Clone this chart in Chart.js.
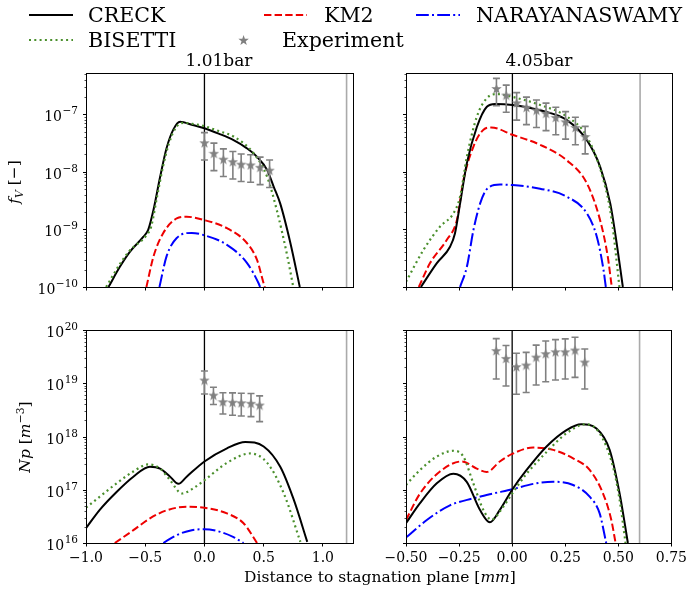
<!DOCTYPE html>
<html><head><meta charset="utf-8">
<script src="https://cdn.jsdelivr.net/npm/chart.js@4.4.1/dist/chart.umd.min.js"></script>
<style>
html,body{margin:0;padding:0;background:#fff;}
body{width:690px;height:590px;position:relative;overflow:hidden;font-family:"DejaVu Serif",serif;color:#000;}
canvas{position:absolute;left:0;top:0;}
.t{position:absolute;white-space:nowrap;line-height:1;}
.lg{font-size:20.6px;}
.ti{font-size:17px;}
.ax{font-size:15.5px;}
sub,sup{font-size:70%;line-height:0;}
</style></head><body>
<canvas id="cTL" width="690" height="590"></canvas>
<canvas id="cTR" width="690" height="590"></canvas>
<canvas id="cBL" width="690" height="590"></canvas>
<canvas id="cBR" width="690" height="590"></canvas>

<svg style="position:absolute;left:0;top:0" width="690" height="60">
  <line x1="29" y1="15" x2="73" y2="15" stroke="#000" stroke-width="2"/>
  <line x1="264" y1="15" x2="307" y2="15" stroke="#ee0000" stroke-width="2" stroke-dasharray="7.4,3.2"/>
  <line x1="416" y1="15" x2="460" y2="15" stroke="#0000ff" stroke-width="2" stroke-dasharray="12.8,3.2,2,3.2"/>
  <line x1="29" y1="40" x2="73" y2="40" stroke="#4a8f2c" stroke-width="2" stroke-dasharray="2,3.3"/>
  <polygon id="lgStar" fill="#808080"/>
</svg>
<div class="t lg" style="left:88px;top:5px">CRECK</div>
<div class="t lg" style="left:324px;top:5px">KM2</div>
<div class="t lg" style="left:476px;top:5px">NARAYANASWAMY</div>
<div class="t lg" style="left:88px;top:30px">BISETTI</div>
<div class="t lg" style="left:282px;top:30px">Experiment</div>
<div class="t ti" style="left:219px;top:52px;transform:translateX(-50%)">1.01bar</div>
<div class="t ti" style="left:539px;top:52px;transform:translateX(-50%)">4.05bar</div>
<div class="t ax" style="left:15px;top:182px;transform:translate(-50%,-50%) rotate(-90deg)"><i>f</i><sub><i>V</i></sub> [−]</div>
<div class="t ax" style="left:26px;top:437px;transform:translate(-50%,-50%) rotate(-90deg)"><i>Np</i> [<i>m</i><sup>−3</sup>]</div>
<div class="t ax" style="left:380px;top:570px;transform:translateX(-50%)">Distance to stagnation plane [<i>mm</i>]</div>

<script>
// ---------------- DATA ----------------
// x ticks
const xTicks101 = [-1.0, -0.5, 0.0, 0.5, 1.0];
const xTicks405 = [-0.5, -0.25, 0.0, 0.25, 0.5, 0.75];
// soot volume fraction, 1.01 bar
const fv101_CRECK_x = [-0.81, -0.714, -0.63, -0.517, -0.475, -0.43, -0.374, -0.32, -0.263, -0.206, -0.1, 0, 0.12, 0.246, 0.35, 0.444, 0.53, 0.585, 0.64, 0.726, 0.805];
const fv101_CRECK_y = [1.0e-10, 2.24e-10, 4.07e-10, 7.4e-10, 9.8e-10, 2.19e-9, 8.2e-9, 2.57e-8, 5.4e-8, 7.4e-8, 6.5e-8, 5.7e-8, 4.6e-8, 3.55e-8, 2.63e-8, 1.82e-8, 1.07e-8, 5.5e-9, 2.8e-9, 5.75e-10, 1.0e-10];
const fv101_BISETTI_x = [-0.83, -0.714, -0.63, -0.49, -0.45, -0.40, -0.35, -0.30, -0.24, -0.18, -0.1, 0, 0.12, 0.246, 0.415, 0.53, 0.61, 0.70, 0.75];
const fv101_BISETTI_y = [1.0e-10, 2.5e-10, 4.3e-10, 7.9e-10, 1.12e-9, 3.7e-9, 1.23e-8, 3.1e-8, 5.9e-8, 7.1e-8, 6.8e-8, 6.2e-8, 5.1e-8, 4.1e-8, 2.1e-8, 8.1e-9, 2.2e-9, 3.4e-10, 1.0e-10];
const fv101_KM2_x = [-0.49, -0.43, -0.35, -0.234, -0.15, 0, 0.19, 0.36, 0.444, 0.5, 0.51];
const fv101_KM2_y = [1.0e-10, 3.4e-10, 8.5e-10, 1.55e-9, 1.66e-9, 1.45e-9, 1.05e-9, 5.75e-10, 2.95e-10, 1.15e-10, 1.0e-10];
const fv101_NARAY_x = [-0.38, -0.32, -0.234, -0.107, 0, 0.19, 0.36, 0.458, 0.47];
const fv101_NARAY_y = [1.0e-10, 3.4e-10, 7.1e-10, 8.7e-10, 7.9e-10, 5.4e-10, 2.6e-10, 1.15e-10, 1.0e-10];
const fv101_EXP_x = [0, 0.08, 0.16, 0.24, 0.31, 0.39, 0.47, 0.55];
const fv101_EXP_y = [3.2e-8, 2.1e-8, 1.66e-8, 1.5e-8, 1.36e-8, 1.32e-8, 1.2e-8, 1.07e-8];
const fv101_EXP_lo = [1.6e-8, 1.05e-8, 8.3e-9, 7.5e-9, 6.8e-9, 6.6e-9, 6.0e-9, 5.35e-9];
const fv101_EXP_hi = [4.8e-8, 3.15e-8, 2.5e-8, 2.25e-8, 2.04e-8, 1.98e-8, 1.8e-8, 1.6e-8];
// soot volume fraction, 4.05 bar
const fv405_CRECK_x = [-0.43, -0.355, -0.293, -0.27, -0.246, -0.214, -0.167, -0.12, -0.081, 0, 0.13, 0.256, 0.35, 0.412, 0.46, 0.49, 0.519];
const fv405_CRECK_y = [1.0e-10, 2.6e-10, 5.0e-10, 8.5e-10, 2.8e-9, 1.41e-8, 6.0e-8, 1.35e-7, 1.51e-7, 1.45e-7, 1.17e-7, 7.9e-8, 3.55e-8, 1.23e-8, 2.8e-9, 5.75e-10, 1.0e-10];
const fv405_BISETTI_x = [-0.5, -0.418, -0.34, -0.277, -0.246, -0.214, -0.167, -0.12, -0.073, 0, 0.13, 0.256, 0.35, 0.428, 0.467, 0.503];
const fv405_BISETTI_y = [1.23e-10, 4.4e-10, 1.12e-9, 1.9e-9, 3.7e-9, 1.82e-8, 9.1e-8, 1.9e-7, 2.24e-7, 2.0e-7, 1.45e-7, 9.1e-8, 4.1e-8, 7.2e-9, 1.45e-9, 1.0e-10];
const fv405_KM2_x = [-0.44, -0.387, -0.308, -0.261, -0.23, -0.183, -0.136, -0.10, 0, 0.13, 0.256, 0.35, 0.412, 0.448, 0.467];
const fv405_KM2_y = [1.0e-10, 2.6e-10, 6.6e-10, 1.45e-9, 7.2e-9, 2.75e-8, 5.4e-8, 5.9e-8, 4.4e-8, 2.95e-8, 1.58e-8, 6.3e-9, 1.45e-9, 3.4e-10, 1.0e-10];
const fv405_NARAY_x = [-0.246, -0.214, -0.183, -0.152, -0.12, -0.058, 0, 0.13, 0.256, 0.35, 0.397, 0.428, 0.439];
const fv405_NARAY_y = [1.0e-10, 2.24e-10, 9.8e-10, 2.8e-9, 5.0e-9, 6.0e-9, 5.9e-9, 5.1e-9, 3.7e-9, 1.9e-9, 7.4e-10, 2.0e-10, 1.0e-10];
const fv405_EXP_x = [-0.075, -0.029, 0.02, 0.066, 0.113, 0.158, 0.204, 0.25, 0.296, 0.342];
const fv405_EXP_y = [2.8e-7, 2.15e-7, 1.58e-7, 1.32e-7, 1.18e-7, 1.04e-7, 8.8e-8, 7.4e-8, 5.9e-8, 4.1e-8];
const fv405_EXP_lo = [1.4e-7, 1.08e-7, 7.9e-8, 6.6e-8, 5.9e-8, 5.2e-8, 4.4e-8, 3.7e-8, 2.95e-8, 2.05e-8];
const fv405_EXP_hi = [4.2e-7, 3.2e-7, 2.37e-7, 1.98e-7, 1.77e-7, 1.56e-7, 1.32e-7, 1.11e-7, 8.85e-8, 6.15e-8];
// particle number density, 1.01 bar
const np101_CRECK_x = [-1.0, -0.884, -0.742, -0.60, -0.46, -0.375, -0.29, -0.22, -0.15, 0, 0.19, 0.345, 0.5, 0.64, 0.754, 0.868];
const np101_CRECK_y = [1.9e16, 4.2e16, 9.1e16, 1.76e17, 2.7e17, 2.5e17, 1.76e17, 1.29e17, 1.76e17, 3.4e17, 6.0e17, 7.9e17, 6.5e17, 2.7e17, 6.5e16, 1.05e16];
const np101_BISETTI_x = [-1.0, -0.884, -0.742, -0.60, -0.475, -0.375, -0.29, -0.19, -0.093, 0, 0.19, 0.387, 0.53, 0.67, 0.81];
const np101_BISETTI_y = [4.6e16, 7.4e16, 1.32e17, 2.2e17, 3.0e17, 2.5e17, 1.51e17, 8.5e16, 1.07e17, 1.51e17, 3.2e17, 4.8e17, 3.2e17, 8.5e16, 1.05e16];
const np101_KM2_x = [-0.757, -0.60, -0.46, -0.32, -0.15, 0, 0.19, 0.33, 0.444];
const np101_KM2_y = [1.0e16, 1.74e16, 2.9e16, 4.1e16, 4.8e16, 4.6e16, 3.6e16, 2.35e16, 1.0e16];
const np101_NARAY_x = [-0.347, -0.234, -0.107, 0, 0.133, 0.246, 0.33];
const np101_NARAY_y = [1.0e16, 1.41e16, 1.74e16, 1.82e16, 1.62e16, 1.29e16, 1.0e16];
const np101_EXP_x = [0, 0.076, 0.156, 0.237, 0.311, 0.393, 0.466];
const np101_EXP_y = [1.15e19, 6.0e18, 4.5e18, 4.4e18, 4.3e18, 4.2e18, 3.9e18];
const np101_EXP_lo = [6.3e18, 4.0e18, 2.65e18, 2.5e18, 2.43e18, 2.36e18, 1.9e18];
const np101_EXP_hi = [1.7e19, 8.4e18, 6.65e18, 6.6e18, 6.5e18, 6.4e18, 5.8e18];
// particle number density, 4.05 bar
const np405_CRECK_x = [-0.5, -0.434, -0.355, -0.277, -0.214, -0.152, -0.105, -0.058, 0, 0.068, 0.162, 0.256, 0.326, 0.397, 0.459, 0.506, 0.545];
const np405_CRECK_y = [2.35e16, 5.6e16, 1.32e17, 2.0e17, 1.41e17, 4.2e16, 2.45e16, 4.2e16, 1.0e17, 2.35e17, 6.5e17, 1.32e18, 1.7e18, 1.41e18, 5.6e17, 8.5e16, 1.0e16];
const np405_BISETTI_x = [-0.5, -0.434, -0.355, -0.277, -0.23, -0.183, -0.136, -0.097, -0.042, 0, 0.068, 0.162, 0.256, 0.346, 0.412, 0.475, 0.506, 0.534];
const np405_BISETTI_y = [1.23e17, 2.35e17, 4.2e17, 5.4e17, 4.2e17, 1.32e17, 4.2e16, 2.75e16, 4.8e16, 8.5e16, 2.0e17, 5.1e17, 1.15e18, 1.7e18, 1.15e18, 2.7e17, 6.5e16, 1.0e16];
const np405_KM2_x = [-0.5, -0.434, -0.34, -0.238, -0.167, -0.12, -0.058, 0, 0.099, 0.193, 0.287, 0.365, 0.428, 0.467, 0.487];
const np405_KM2_y = [2.7e16, 8.5e16, 2.2e17, 3.4e17, 2.5e17, 2.15e17, 3.4e17, 4.7e17, 6.2e17, 5.6e17, 3.9e17, 2.35e17, 8.5e16, 2.7e16, 1.0e16];
const np405_NARAY_x = [-0.497, -0.402, -0.293, -0.183, -0.089, 0, 0.099, 0.193, 0.287, 0.365, 0.412, 0.443];
const np405_NARAY_y = [1.29e16, 2.7e16, 5.1e16, 6.9e16, 8.5e16, 1.02e17, 1.29e17, 1.41e17, 1.23e17, 7.4e16, 3.6e16, 1.0e16];
const np405_EXP_x = [-0.075, -0.029, 0.02, 0.066, 0.113, 0.158, 0.204, 0.25, 0.296, 0.342];
const np405_EXP_y = [4.1e19, 2.93e19, 2.05e19, 2.2e19, 3.1e19, 3.6e19, 3.9e19, 3.9e19, 4.2e19, 2.5e19];
const np405_EXP_lo = [1.2e19, 8.9e18, 6.2e18, 6.7e18, 9.3e18, 1.07e19, 1.15e19, 1.2e19, 1.29e19, 7.8e18];
const np405_EXP_hi = [6.9e19, 5.1e19, 3.65e19, 3.8e19, 5.2e19, 6.2e19, 6.6e19, 6.8e19, 7.3e19, 4.4e19];
// reference lines (stagnation plane and wall)
const stagX = 0.0;
const wallX101 = 1.2;
const wallX405 = 0.6;

// ---------------- RENDERING ----------------
const FONT = '"DejaVu Serif", serif';
const COLORS = { CRECK: '#000000', BISETTI: '#4a8f2c', KM2: '#ee0000', NARAY: '#0000ff', EXP: '#808080', WALL: '#aaaaaa' };
const XH = 30;

function pts(xs, ys) { return xs.map((x, i) => ({ x: x, y: ys[i] })); }

function starCanvas(size, color) {
  const c = document.createElement('canvas'); c.width = size; c.height = size;
  const g = c.getContext('2d'); g.fillStyle = color; g.beginPath();
  const cx = size / 2, cy = size / 2 + size * 0.05, R = size / 2, r = R * 0.4;
  for (let i = 0; i < 10; i++) {
    const a = -Math.PI / 2 + i * Math.PI / 5; const rr = i % 2 ? r : R;
    g.lineTo(cx + rr * Math.cos(a), cy + rr * Math.sin(a));
  }
  g.closePath(); g.fill(); return c;
}
const STAR = starCanvas(11, COLORS.EXP);
(function () {
  const cx = 243.6, cy = 40, R = 5.5, r = R * 0.4; const p = [];
  for (let i = 0; i < 10; i++) { const a = -Math.PI / 2 + i * Math.PI / 5; const rr = i % 2 ? r : R; p.push((cx + rr * Math.cos(a)).toFixed(2) + ',' + (cy + 0.5 + rr * Math.sin(a)).toFixed(2)); }
  document.getElementById('lgStar').setAttribute('points', p.join(' '));
})();

const SUP = { '-': '−', '0': '0', '1': '1', '2': '2', '3': '3', '4': '4', '5': '5', '6': '6', '7': '7', '8': '8', '9': '9' };
function fmtX(dec) { return v => (v < 0 ? '−' : '') + Math.abs(v).toFixed(dec); }

function makePanel(id, box, xmin, xmax, xTicks, xDec, showX, ymin, ymax, showY, s, wallX) {
  const ds = [
    { label: 'Experiment', data: pts(s.EXP_x, s.EXP_y), showLine: false, pointStyle: STAR, pointRadius: 5, borderColor: COLORS.EXP, backgroundColor: COLORS.EXP },
    { label: 'BISETTI', data: pts(s.BISETTI_x, s.BISETTI_y), borderColor: COLORS.BISETTI, borderWidth: 2.2, borderDash: [2, 3.3], borderCapStyle: 'butt', pointRadius: 0, cubicInterpolationMode: 'monotone' },
    { label: 'CRECK', data: pts(s.CRECK_x, s.CRECK_y), borderColor: COLORS.CRECK, borderWidth: 2, pointRadius: 0, cubicInterpolationMode: 'monotone' },
    { label: 'KM2', data: pts(s.KM2_x, s.KM2_y), borderColor: COLORS.KM2, borderWidth: 2, borderDash: [7.4, 3.2], pointRadius: 0, cubicInterpolationMode: 'monotone' },
    { label: 'NARAYANASWAMY', data: pts(s.NARAY_x, s.NARAY_y), borderColor: COLORS.NARAY, borderWidth: 2, borderDash: [12.8, 3.2, 2, 3.2], pointRadius: 0, cubicInterpolationMode: 'monotone' },
    { label: 'stag', data: [{ x: stagX, y: ymin }, { x: stagX, y: ymax }], borderColor: '#000', borderWidth: 1.3, pointRadius: 0 },
    { label: 'wall', data: [{ x: wallX, y: ymin }, { x: wallX, y: ymax }], borderColor: COLORS.WALL, borderWidth: 1.6, pointRadius: 0 }
  ];
  const errPlugin = {
    id: 'err' + id,
    beforeDatasetDraw(chart, args) {
      if (args.index !== 0) return;
      const ctx = chart.ctx, xs = chart.scales.x, ys = chart.scales.y;
      ctx.save(); ctx.strokeStyle = COLORS.EXP; ctx.lineWidth = 1.6;
      s.EXP_x.forEach((x, i) => {
        const px = xs.getPixelForValue(x), p1 = ys.getPixelForValue(s.EXP_lo[i]), p2 = ys.getPixelForValue(s.EXP_hi[i]);
        ctx.beginPath();
        ctx.moveTo(px, p1); ctx.lineTo(px, p2);
        ctx.moveTo(px - 3.5, p1); ctx.lineTo(px + 3.5, p1);
        ctx.moveTo(px - 3.5, p2); ctx.lineTo(px + 3.5, p2);
        ctx.stroke();
      });
      ctx.restore();
    }
  };
  const axisPlugin = {
    id: 'ax' + id,
    afterDraw(chart) {
      const ctx = chart.ctx, a = chart.chartArea, ys = chart.scales.y;
      ctx.save();
      ctx.strokeStyle = '#000'; ctx.lineWidth = 1;
      ctx.strokeRect(Math.round(a.left) + 0.5, Math.round(a.top) + 0.5, Math.round(a.right) - Math.round(a.left), Math.round(a.bottom) - Math.round(a.top));
      const n0 = Math.floor(Math.log10(ymin) + 1e-9), n1 = Math.ceil(Math.log10(ymax));
      const L = Math.round(a.left) + 0.5;
      for (let n = n0; n <= n1; n++) {
        for (let k = 1; k <= 9; k++) {
          const v = Number(k + 'e' + n);
          if (v < ymin * 0.999 || v > ymax * 1.001) continue;
          const py = Math.round(ys.getPixelForValue(v)) + 0.5;
          const len = k === 1 ? 3.5 : 2;
          ctx.lineWidth = k === 1 ? 1 : 0.7;
          ctx.beginPath(); ctx.moveTo(L - len, py); ctx.lineTo(L, py); ctx.stroke();
          if (k === 1 && showY) {
            const ex = String(n).split('').map(c => SUP[c]).join('');
            ctx.fillStyle = '#000'; ctx.textAlign = 'right'; ctx.textBaseline = 'alphabetic';
            ctx.font = '10.5px ' + FONT;
            const xr = a.left - 8;
            const ew = ctx.measureText(ex).width;
            ctx.fillText(ex, xr, py - 1);
            ctx.font = '14px ' + FONT;
            ctx.fillText('10', xr - ew - 0.5, py + 6);
          }
        }
      }
      ctx.restore();
    }
  };
  return new Chart(document.getElementById(id), {
    type: 'line',
    data: { datasets: ds },
    plugins: [errPlugin, axisPlugin],
    options: {
      responsive: false, animation: false, devicePixelRatio: 1, events: [],
      layout: { padding: { left: 0, top: box.t, right: 690 - box.r, bottom: 590 - box.b - XH } },
      plugins: { legend: { display: false }, tooltip: { enabled: false }, title: { display: false } },
      scales: {
        x: {
          type: 'linear', min: xmin, max: xmax,
          afterBuildTicks: sc => { sc.ticks = xTicks.map(v => ({ value: v })); },
          afterFit: sc => { sc.height = XH; },
          grid: { drawOnChartArea: false, drawTicks: true, tickLength: 3.5, color: '#000', tickColor: '#000', tickWidth: 1 },
          border: { display: false },
          ticks: { autoSkip: false, maxRotation: 0, minRotation: 0, padding: 3, color: '#000', font: { family: FONT, size: 14 }, callback: v => showX ? fmtX(xDec)(v) : '' }
        },
        y: {
          type: 'logarithmic', min: ymin, max: ymax,
          afterFit: sc => { sc.width = box.l; },
          grid: { display: false }, border: { display: false },
          ticks: { display: false }
        }
      }
    }
  });
}

const fv101 = { CRECK_x: fv101_CRECK_x, CRECK_y: fv101_CRECK_y, BISETTI_x: fv101_BISETTI_x, BISETTI_y: fv101_BISETTI_y, KM2_x: fv101_KM2_x, KM2_y: fv101_KM2_y, NARAY_x: fv101_NARAY_x, NARAY_y: fv101_NARAY_y, EXP_x: fv101_EXP_x, EXP_y: fv101_EXP_y, EXP_lo: fv101_EXP_lo, EXP_hi: fv101_EXP_hi };
const fv405 = { CRECK_x: fv405_CRECK_x, CRECK_y: fv405_CRECK_y, BISETTI_x: fv405_BISETTI_x, BISETTI_y: fv405_BISETTI_y, KM2_x: fv405_KM2_x, KM2_y: fv405_KM2_y, NARAY_x: fv405_NARAY_x, NARAY_y: fv405_NARAY_y, EXP_x: fv405_EXP_x, EXP_y: fv405_EXP_y, EXP_lo: fv405_EXP_lo, EXP_hi: fv405_EXP_hi };
const np101 = { CRECK_x: np101_CRECK_x, CRECK_y: np101_CRECK_y, BISETTI_x: np101_BISETTI_x, BISETTI_y: np101_BISETTI_y, KM2_x: np101_KM2_x, KM2_y: np101_KM2_y, NARAY_x: np101_NARAY_x, NARAY_y: np101_NARAY_y, EXP_x: np101_EXP_x, EXP_y: np101_EXP_y, EXP_lo: np101_EXP_lo, EXP_hi: np101_EXP_hi };
const np405 = { CRECK_x: np405_CRECK_x, CRECK_y: np405_CRECK_y, BISETTI_x: np405_BISETTI_x, BISETTI_y: np405_BISETTI_y, KM2_x: np405_KM2_x, KM2_y: np405_KM2_y, NARAY_x: np405_NARAY_x, NARAY_y: np405_NARAY_y, EXP_x: np405_EXP_x, EXP_y: np405_EXP_y, EXP_lo: np405_EXP_lo, EXP_hi: np405_EXP_hi };

const FV_MIN = 1e-10, FV_MAX = 5.2e-7, NP_MIN = 1e16, NP_MAX = 1e20;
makePanel('cTL', { l: 86, t: 73, r: 352.5, b: 287 }, -1.0, 1.25, xTicks101, 1, false, FV_MIN, FV_MAX, true, fv101, wallX101);
makePanel('cTR', { l: 406, t: 73, r: 672, b: 287 }, -0.5, 0.75, xTicks405, 2, false, FV_MIN, FV_MAX, false, fv405, wallX405);
makePanel('cBL', { l: 86, t: 330, r: 352.5, b: 543 }, -1.0, 1.25, xTicks101, 1, true, NP_MIN, NP_MAX, true, np101, wallX101);
makePanel('cBR', { l: 406, t: 330, r: 672, b: 543 }, -0.5, 0.75, xTicks405, 2, true, NP_MIN, NP_MAX, false, np405, wallX405);
</script>
</body></html>
